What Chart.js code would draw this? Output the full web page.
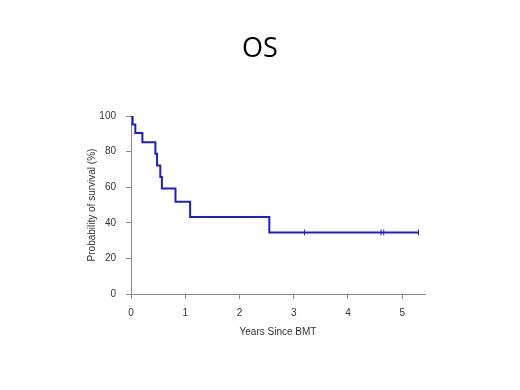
<!DOCTYPE html>
<html>
<head>
<meta charset="utf-8">
<script src="https://cdn.jsdelivr.net/npm/chart.js@4/dist/chart.umd.min.js"></script>
<style>
html,body{margin:0;padding:0;background:#fff;}
#wrap{width:520px;height:390px;position:relative;}
</style>
</head>
<body>
<div id="wrap"><canvas id="c" width="520" height="390"></canvas></div>
<script>
// Kaplan-Meier step curve (years since BMT, survival %)
const stepTimes  = [0, 0.03, 0.08, 0.21, 0.45, 0.48, 0.54, 0.57, 0.82, 1.09, 2.55, 5.3];
const stepValues = [100, 95.2, 90.5, 85.2, 78.8, 72.2, 65.8, 59.3, 51.8, 43.2, 34.6, 34.6];
// Censoring marks
const censorTimes  = [3.2, 4.61, 4.66, 5.3];
const censorValues = [34.6, 34.6, 34.6, 34.6];
// Axis ticks
const xTicks = [0, 1, 2, 3, 4, 5];
const yTicks = [0, 20, 40, 60, 80, 100];
const titleText = 'OS';

const curve = stepTimes.map((t, i) => ({x: t, y: stepValues[i]}));
const censor = censorTimes.map((t, i) => ({x: t, y: censorValues[i]}));

const blue = '#1e1ecc';
const axisGray = '#8a8a8a';
const tickColor = '#333333';

const titlePlugin = {
  id: 'pageTitle',
  afterDraw(chart) {
    const ctx = chart.ctx;
    ctx.save();
    ctx.fillStyle = '#000';
    ctx.font = '27px "Open Sans"';
    ctx.textAlign = 'center';
    ctx.textBaseline = 'middle';
    ctx.fillText(titleText, 260, 49);
    ctx.restore();
  }
};

new Chart(document.getElementById('c'), {
  type: 'line',
  data: {
    datasets: [
      {data: curve, borderColor: blue, borderWidth: 2, stepped: true, pointRadius: 0, fill: false},
      {type: 'scatter', data: censor, borderColor: blue, borderWidth: 1, pointStyle: 'line', rotation: 90, pointRadius: 3, showLine: false}
    ]
  },
  plugins: [titlePlugin],
  options: {
    responsive: false,
    animation: false,
    devicePixelRatio: 1,
    layout: {padding: {left: 81, right: 95, top: 116, bottom: 52}},
    plugins: {
      legend: {display: false},
      tooltip: {enabled: false},
      title: {display: false}
    },
    scales: {
      x: {
        type: 'linear',
        min: 0,
        max: 5.42,
        afterBuildTicks: s => { s.ticks = xTicks.map(v => ({value: v})); },
        afterFit: s => { s.height = 44; },
        grid: {display: true, drawOnChartArea: false, drawTicks: true, tickLength: 5, tickColor: axisGray},
        border: {display: true, color: axisGray, width: 1},
        ticks: {color: tickColor, font: {family: 'Liberation Sans', size: 10}, padding: 8, maxRotation: 0, autoSkip: false},
        title: {display: true, text: 'Years Since BMT', color: tickColor, font: {family: 'Liberation Sans', size: 10}, padding: {top: 4, bottom: 0}}
      },
      y: {
        min: 0,
        max: 100,
        afterBuildTicks: s => { s.ticks = yTicks.map(v => ({value: v})); },
        afterFit: s => { s.width = 50; },
        grid: {display: true, drawOnChartArea: false, drawTicks: true, tickLength: 5, tickColor: axisGray},
        border: {display: true, color: axisGray, width: 1},
        ticks: {color: tickColor, font: {family: 'Liberation Sans', size: 10}, padding: 10},
        title: {display: true, text: 'Probability of survival (%)', color: tickColor, font: {family: 'Liberation Sans', size: 10}, padding: {top: 5, bottom: 0}}
      }
    }
  }
});
</script>
</body>
</html>
